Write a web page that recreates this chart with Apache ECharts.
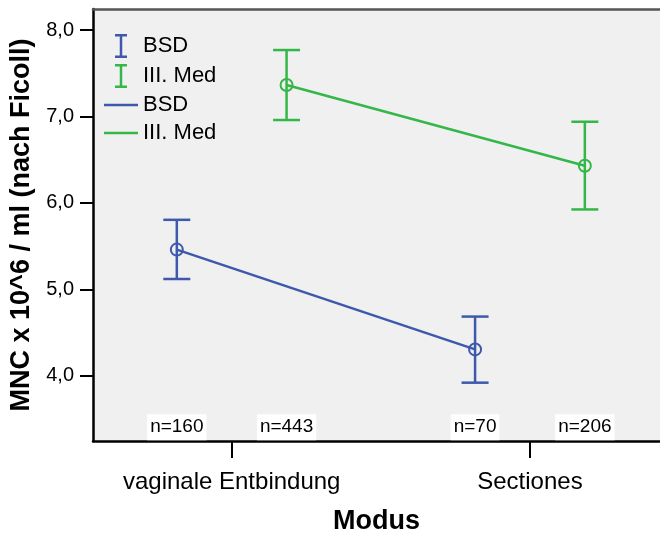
<!DOCTYPE html>
<html><head><meta charset="utf-8">
<script src="https://cdn.jsdelivr.net/npm/echarts@6/dist/echarts.min.js"></script>
<style>html,body{margin:0;padding:0;background:#fff}#c{width:660px;height:535px}</style>
</head><body><div id="c"></div>
<script>
// ---- data ----
const categories = ['vaginale Entbindung', 'Sectiones'];
const groups = ['BSD', 'III. Med'];
const bsdMean = [5.46, 4.305];
const bsdLow  = [5.12, 3.92];
const bsdHigh = [5.805, 4.685];
const medMean = [7.365, 6.43];
const medLow  = [6.96, 5.925];
const medHigh = [7.77, 6.94];
const bsdN = [160, 70];
const medN = [443, 206];
const yTicks = [4, 5, 6, 7, 8];

// ---- style / layout constants ----
const BLUE = '#3e58ac', GREEN = '#34b748';
const OFF = 0.184;            // group offset in category units
const FONT = 'Liberation Sans, Arial, Helvetica, sans-serif';
const N_LABEL_Y = 3.404;

function errData(low, high, off) {
  return categories.map((c, i) => [i + off, low[i], high[i]]);
}
function lineData(mean, off) {
  return categories.map((c, i) => [i + off, mean[i]]);
}
function nData(counts, off) {
  return categories.map((c, i) => ({ value: [i + off, N_LABEL_Y], n: counts[i] }));
}
function renderErr(params, api) {
  const x = api.value(0), lo = api.value(1), hi = api.value(2);
  const pLo = api.coord([x, lo]), pHi = api.coord([x, hi]);
  const hw = 13.5;
  const style = { stroke: api.visual('color'), lineWidth: 2.5, fill: null };
  return { type: 'group', children: [
    { type: 'line', shape: { x1: pLo[0], y1: pLo[1], x2: pHi[0], y2: pHi[1] }, style },
    { type: 'line', shape: { x1: pLo[0] - hw, y1: pLo[1], x2: pLo[0] + hw, y2: pLo[1] }, style },
    { type: 'line', shape: { x1: pHi[0] - hw, y1: pHi[1], x2: pHi[0] + hw, y2: pHi[1] }, style }
  ]};
}
const IBEAM = 'path://M0,0 L12,0 L12,2.5 L7.25,2.5 L7.25,21.5 L12,21.5 L12,24 L0,24 L0,21.5 L4.75,21.5 L4.75,2.5 L0,2.5 Z';
const LINEICON = 'path://M0,0 L34,0 L34,2.5 L0,2.5 Z';

const chart = echarts.init(document.getElementById('c'), null, { renderer: 'canvas' });
chart.setOption({
  animation: false,
  textStyle: { fontFamily: FONT },
  grid: { left: 93, top: 9, right: 0, bottom: 94, show: true, backgroundColor: '#f0f0f0', borderWidth: 0,
    containLabel: false, outerBoundsMode: 'none' },
  legend: {
    orient: 'vertical', left: 99, top: 29, itemWidth: 34, itemHeight: 24, itemGap: 6,
    symbolKeepAspect: true,
    textStyle: { fontSize: 22, color: '#000', fontFamily: FONT },
    selectedMode: false,
    data: [
      { name: groups[0], icon: IBEAM, itemStyle: { color: BLUE, borderWidth: 0 } },
      { name: groups[1], icon: IBEAM, itemStyle: { color: GREEN, borderWidth: 0 } },
      { name: groups[0] + ' ', icon: LINEICON, itemStyle: { color: BLUE, borderWidth: 0 } },
      { name: groups[1] + ' ', icon: LINEICON, itemStyle: { color: GREEN, borderWidth: 0 } }
    ]
  },
  xAxis: [{
    type: 'value', min: -0.465, max: 1.436,
    axisLine: { show: true, onZero: false, lineStyle: { color: '#000', width: 2.5 } },
    axisTick: { show: true, customValues: [0, 1], length: 17, lineStyle: { color: '#000', width: 2 } },
    axisLabel: { customValues: [0, 1], formatter: v => categories[Math.round(v)], fontSize: 24, margin: 29, color: '#000', fontFamily: FONT },
    splitLine: { show: false },
    name: 'Modus', nameLocation: 'middle', nameGap: 67,
    nameTextStyle: { fontSize: 27, fontWeight: 'bold', color: '#000', fontFamily: FONT }
  }, {
    type: 'value', position: 'top', min: -0.465, max: 1.436,
    axisLine: { show: true, onZero: false, lineStyle: { color: '#555', width: 2.5 } },
    axisTick: { show: false }, axisLabel: { show: false }, splitLine: { show: false }
  }],
  yAxis: {
    type: 'value', min: 3.245, max: 8.245,
    axisLine: { show: true, onZero: false, lineStyle: { color: '#000', width: 2.5 } },
    axisTick: { show: true, customValues: yTicks, length: 13, lineStyle: { color: '#000', width: 2 } },
    axisLabel: { customValues: yTicks, formatter: v => v.toFixed(1).replace('.', ','), fontSize: 20, margin: 19, color: '#000', fontFamily: FONT },
    splitLine: { show: false },
    name: 'MNC x 10^6 / ml (nach Ficoll)', nameLocation: 'middle', nameGap: 51,
    nameTextStyle: { fontSize: 27, fontWeight: 'bold', color: '#000', fontFamily: FONT }
  },
  series: [
    { name: groups[0], type: 'custom', color: BLUE, renderItem: renderErr, encode: { x: 0, y: [1, 2] }, data: errData(bsdLow, bsdHigh, -OFF), z: 2 },
    { name: groups[1], type: 'custom', color: GREEN, renderItem: renderErr, encode: { x: 0, y: [1, 2] }, data: errData(medLow, medHigh, OFF), z: 2 },
    { name: groups[0] + ' ', type: 'line', data: lineData(bsdMean, -OFF), symbol: 'circle', symbolSize: 12,
      lineStyle: { color: BLUE, width: 2.5 }, itemStyle: { color: 'rgba(0,0,0,0)', borderColor: BLUE, borderWidth: 2 }, z: 3 },
    { name: groups[1] + ' ', type: 'line', data: lineData(medMean, OFF), symbol: 'circle', symbolSize: 12,
      lineStyle: { color: GREEN, width: 2.5 }, itemStyle: { color: 'rgba(0,0,0,0)', borderColor: GREEN, borderWidth: 2 }, z: 3 },
    { type: 'scatter', symbolSize: 0, silent: true, z: 4, itemStyle: { opacity: 1 },
      data: nData(bsdN, -OFF).concat(nData(medN, OFF)),
      label: { show: true, position: 'inside', formatter: p => 'n=' + p.data.n, fontSize: 19, color: '#000',
        backgroundColor: '#fff', padding: [4, 3, 3, 3], fontFamily: FONT } }
  ]
});
</script></body></html>
